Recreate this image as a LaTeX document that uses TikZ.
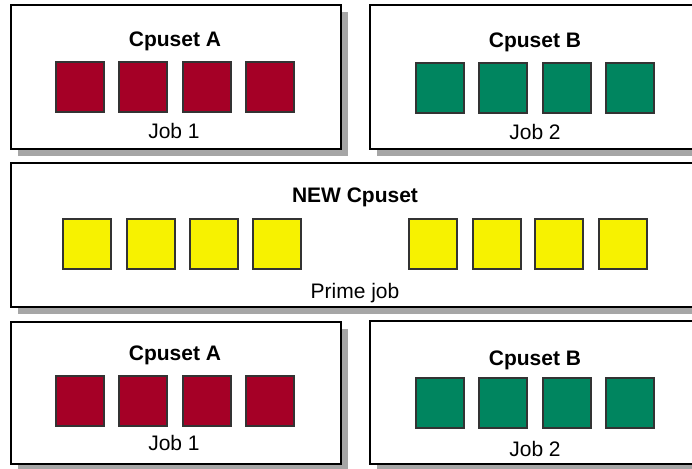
\documentclass[tikz,border=0pt]{standalone}
\usepackage{fontspec}
\setmainfont{Liberation Sans}
\usetikzlibrary{shadows}
\definecolor{cpured}{HTML}{A50026}
\definecolor{cpugreen}{HTML}{00855F}
\definecolor{cpuyellow}{HTML}{F7F200}
\definecolor{shadowgray}{HTML}{A6A6A6}
\definecolor{sqborder}{HTML}{333333}
\tikzset{
  panel/.style={draw=black, fill=white, line width=1.3pt, inner sep=0pt, outer sep=0pt,
    drop shadow={shadow xshift=7pt, shadow yshift=-7pt, fill=shadowgray, opacity=1}},
  cpu/.style={draw=sqborder, line width=1.1pt, minimum width=48pt, minimum height=50pt, inner sep=0pt},
  redcpu/.style={cpu, fill=cpured},
  greencpu/.style={cpu, fill=cpugreen},
  yellowcpu/.style={cpu, fill=cpuyellow},
  title/.style={anchor=base, inner sep=0pt, font=\fontsize{21}{25}\selectfont\bfseries},
  label/.style={anchor=base, inner sep=0pt, font=\fontsize{21}{25}\selectfont},
}
\begin{document}
\begin{tikzpicture}[x=1pt, y=-1pt]
\useasboundingbox (0,0) rectangle (692,468);
\clip (0,0) rectangle (692,468);
\fill[white] (0,0) rectangle (692,468);
% panels
\node[panel, minimum width=330pt, minimum height=144pt] (tl) at (176,77) {};
\node[panel, minimum width=335pt, minimum height=144pt] (tr) at (537.5,77) {};
\node[panel, minimum width=694pt, minimum height=144pt] (mid) at (358,235) {};
\node[panel, minimum width=330pt, minimum height=142pt] (bl) at (176,393) {};
\node[panel, minimum width=335pt, minimum height=143pt] (br) at (537.5,392.5) {};
% top left
\node[title] (tlt) at (175,47) {Cpuset A};
\node[label] (tlj) at (174,138) {Job 1};
\foreach \x [count=\i] in {80,143,207,270} \node[redcpu] (tl\i) at (\x,87) {};
% top right
\node[title] (trt) at (535,48) {Cpuset B};
\node[label] (trj) at (535,139) {Job 2};
\foreach \x [count=\i] in {440,503,567,630} \node[greencpu] (tr\i) at (\x,88) {};
% middle
\node[title] (mt) at (355,202) {NEW Cpuset};
\node[label] (mj) at (355,298) {Prime job};
\foreach \x [count=\i] in {87,151,214,277,433,497,559,623} \node[yellowcpu] (m\i) at (\x,244) {};
% bottom left
\node[title] (blt) at (175,360) {Cpuset A};
\node[label] (blj) at (174,450) {Job 1};
\foreach \x [count=\i] in {80,143,207,270} \node[redcpu] (bl\i) at (\x,401) {};
% bottom right
\node[title] (brt) at (535,365) {Cpuset B};
\node[label] (brj) at (535,456) {Job 2};
\foreach \x [count=\i] in {440,503,567,630} \node[greencpu] (br\i) at (\x,403) {};
\end{tikzpicture}
\end{document}
